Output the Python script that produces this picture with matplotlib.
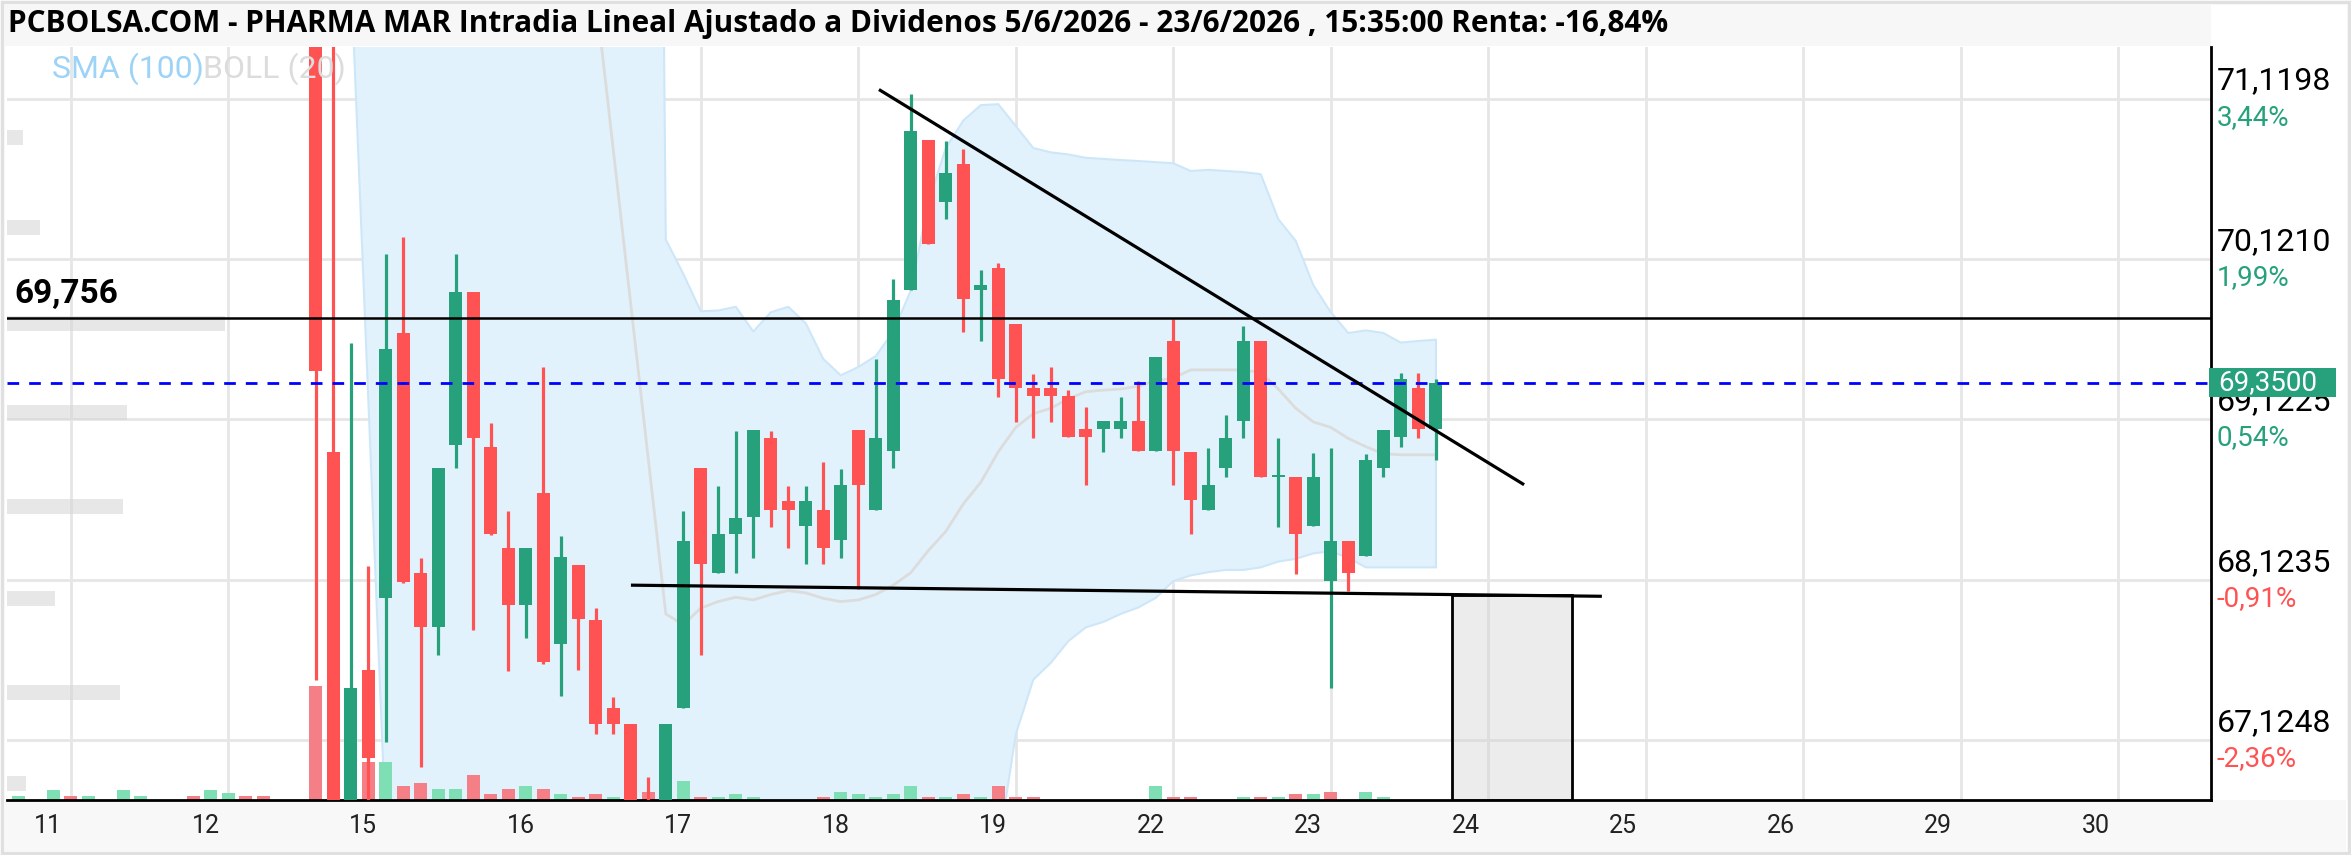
import numpy as np
import matplotlib.pyplot as plt
from matplotlib.patches import Rectangle
from matplotlib.transforms import blended_transform_factory

plt.rcParams['font.family'] = ['Roboto', 'DejaVu Sans']

W, H, DPI = 2351, 855, 100

# sessions on the x axis, 9 hourly bars per session (slot 0 = 11/6 9:00)
days = ['11', '12', '15', '16', '17', '18', '19', '22', '23', '24', '25', '26', '29', '30']
BARS_PER_DAY = 9

# hourly candles, first one is 12/6 14:00 (slot 14)
first_candle = 14
open_ = [73.60, 68.92, 66.50, 67.56, 68.01, 69.66, 68.165, 67.826, 68.962, 69.918,
         68.952, 68.32, 67.963, 68.663, 67.724, 68.212, 67.87, 67.321, 67.222, 66.70,
         66.50, 67.321, 68.816, 68.163, 68.407, 68.516, 69.003, 68.611, 68.457, 68.56,
         68.372, 69.055, 68.56, 68.925, 69.925, 70.864, 70.478, 70.71, 69.925, 70.062,
         69.713, 69.318, 69.318, 69.27, 69.062, 69.062, 69.062, 69.113, 68.925, 69.611,
         68.92, 68.56, 68.816, 69.113, 69.608, 68.765, 68.765, 68.457, 68.116, 68.366,
         68.27, 68.816, 69.01, 69.318, 69.062]
high = [74.00, 72.80, 69.60, 68.21, 70.154, 70.256, 68.26, 68.816, 70.154, 69.918,
        69.10, 68.55, 68.32, 69.448, 68.396, 68.212, 67.945, 67.393, 67.222, 66.894,
        67.222, 68.55, 68.816, 68.707, 69.048, 69.058, 69.048, 68.707, 68.707, 68.857,
        68.81, 69.055, 69.498, 69.993, 71.147, 70.864, 70.853, 70.806, 70.052, 70.096,
        69.713, 69.406, 69.448, 69.305, 69.20, 69.113, 69.259, 69.362, 69.509, 69.748,
        68.92, 68.942, 69.15, 69.704, 69.608, 69.003, 68.765, 68.912, 68.942, 68.366,
        68.908, 69.055, 69.413, 69.413, 69.372]
low = [67.50, 66.40, 66.40, 66.70, 67.11, 68.10, 66.957, 67.655, 68.816, 67.81,
       68.40, 67.555, 67.757, 67.60, 67.40, 67.563, 67.161, 67.16, 66.40, 66.30,
       66.40, 67.321, 67.655, 68.163, 68.163, 68.26, 68.45, 68.32, 68.218, 68.218,
       68.26, 68.065, 68.56, 68.816, 69.925, 70.215, 70.369, 69.669, 69.61, 69.259,
       69.106, 69.003, 69.106, 69.01, 68.713, 68.92, 69.003, 68.925, 68.925, 68.713,
       68.407, 68.56, 68.765, 69.003, 68.765, 68.45, 68.157, 68.457, 67.45, 68.055,
       68.27, 68.765, 68.952, 69.003, 68.867]
close = [69.42, 66.50, 67.45, 67.01, 69.56, 68.11, 67.826, 68.816, 69.918, 69.003,
         68.407, 67.963, 68.32, 67.61, 68.263, 67.877, 67.222, 67.222, 66.50, 66.45,
         67.222, 68.366, 68.218, 68.407, 68.509, 69.058, 68.56, 68.56, 68.611, 68.32,
         68.713, 68.713, 69.003, 69.863, 70.915, 70.215, 70.655, 69.874, 69.96, 69.372,
         69.318, 69.27, 69.27, 69.01, 69.01, 69.113, 69.113, 68.925, 69.509, 68.925,
         68.618, 68.713, 69.003, 69.608, 68.765, 68.77, 68.407, 68.765, 68.366, 68.167,
         68.867, 69.055, 69.372, 69.062, 69.35]

# Bollinger (20) bands, same slots as the candles (nan = not drawn)
nan = np.nan
bb_up = [nan, nan, 86.0, 85.8, 85.6, 85.5, 85.3, 85.1, 84.9, 84.7,
         84.5, 84.3, 84.1, 83.9, 83.7, 83.5, 83.2, 82.9, 82.6, 82.35,
         70.242, 70.028, 69.795, 69.80, 69.823, 69.669, 69.789, 69.823, 69.72, 69.498,
         69.396, 69.448, 69.516, 69.669, 69.925, 70.471, 70.812, 70.983, 71.079, 71.085,
         70.949, 70.812, 70.785, 70.772, 70.751, 70.744, 70.737, 70.731, 70.724, 70.717,
         70.669, 70.676, 70.669, 70.662, 70.649, 70.369, 70.233, 69.959, 69.789, 69.66,
         69.676, 69.66, 69.60, 69.61, 69.618]
bb_mid = [nan, nan, nan, nan, nan, nan, nan, nan, nan, nan,
          nan, nan, nan, nan, nan, nan, 71.76, 70.80, 69.837, 68.875,
          67.91, 67.843, 67.946, 67.987, 68.014, 67.997, 68.031, 68.055, 68.041, 68.007,
          67.987, 67.997, 68.031, 68.089, 68.167, 68.304, 68.424, 68.595, 68.73, 68.92,
          69.072, 69.157, 69.191, 69.25, 69.294, 69.304, 69.311, 69.328, 69.362, 69.379,
          69.43, 69.43, 69.43, 69.43, 69.413, 69.311, 69.191, 69.106, 69.072, 69.003,
          68.952, 68.908, 68.901, 68.901, 68.901]
bb_low = [nan, nan, 71.92, 69.245, 66.57, 65.9, 65.5, 65.2, 65.0, 64.8,
          64.7, 64.6, 64.6, 64.7, 64.8, 64.9, 65.0, 65.2, 65.4, 65.5,
          65.58, 65.66, 66.10, 66.17, 66.205, 66.325, 66.273, 66.287, 66.362, 66.516,
          66.578, 66.546, 66.546, 66.509, 66.409, 66.137, 66.036, 66.207, 66.381, 66.45,
          67.16, 67.50, 67.605, 67.74, 67.826, 67.86, 67.91, 67.95, 68.01, 68.115,
          68.15, 68.17, 68.184, 68.184, 68.20, 68.236, 68.253, 68.287, 68.30, 68.26,
          68.20, 68.20, 68.20, 68.20, 68.20]

# volume bars start at 10/6 15:00 (slot -3)
first_vol = -3
volume = [3.8, 0, 9.6, 3.8, 3.8, 0, 9.6, 3.8, 0, 0, 3.8, 9.6, 6.7, 3.8, 3.8, 0, 0,
          114, 90, 60, 38, 38, 14, 16.7, 11.3, 11.3, 25, 5.7, 11.3, 14, 11.3, 5.7,
          3.3, 5.7, 3.3, 20, 8.3, 20, 19.3, 3.3, 3.3, 5.7, 3.3, 0, 0, 0, 3.3, 8.3,
          5.7, 3.3, 5.7, 14, 3.3, 3.3, 5.7, 3.3, 14, 3.3, 3.3, 0, 0, 0, 0, 0, 0,
          14, 3.3, 3.3, 0, 0, 3.3, 3.3, 3.3, 5.7, 5.7, 8.3, 0, 8.3, 3.3, 0, 0, 0]
vol_up_before = [1, 0, 1, 0, 1, 0, 1, 1, 0, 0, 0, 1, 1, 0, 0, 0, 0, 0]  # slots -3..14
VOL_TOP = 753

# volume-at-price profile on the left
profile_price = [70.880, 70.314, 69.716, 69.162, 68.576, 68.006, 67.418, 66.853]
profile_vol = [16, 33, 218, 120, 116, 48, 113, 19]
PROFILE_TOP = 2204

# right scale
y_ticks = [71.1198, 70.1210, 69.1225, 68.1235, 67.1248]
y_labels = ['71,1198', '70,1210', '69,1225', '68,1235', '67,1248']
pct_labels = ['3,44%', '1,99%', '0,54%', '-0,91%', '-2,36%']

last_price = 69.35
level = 69.756
trend_down_x, trend_down_y = [46.26, 82.97], [71.171, 68.72]
trend_low_x, trend_low_y = [32.1, 87.4], [68.089, 68.02]
box_x, box_top = [78.9, 85.8], 68.03

title = ('PCBOLSA.COM - PHARMA MAR Intradia Lineal Ajustado a Dividenos 5/6/2026 - '
         '23/6/2026 , 15:35:00 Renta: -16,84%')

GREEN, RED = '#26a17b', '#ff5353'
VGREEN, VRED = '#7ddfb3', '#f47f86'

fig = plt.figure(figsize=(W / DPI, H / DPI), dpi=DPI)
fig.patch.set_facecolor('white')
left, right, top, bottom = 7, 2211, 46.7, 800
ax = fig.add_axes([left / W, 1 - bottom / H, (right - left) / W, (bottom - top) / H])
ax.set_xlim(-3.646, 122.3)
ax.set_ylim(66.751, 71.443)

# grid
ax.set_yticks(y_ticks)
ax.set_xticks([i * BARS_PER_DAY for i in range(len(days))])
ax.set_xticks([i * BARS_PER_DAY - 1.3 for i in range(len(days))], labels=days, minor=True)
ax.grid(which='major', color='#e6e6e6', lw=2)
ax.set_axisbelow(True)
ax.tick_params(which='both', length=0, labelleft=False)
ax.tick_params(which='major', labelbottom=False)
ax.tick_params(which='minor', labelsize=18, pad=10, labelcolor='#222222')
for s in ['top', 'left']:
    ax.spines[s].set_visible(False)
ax.spines['right'].set_linewidth(2)
ax.spines['bottom'].set_linewidth(2)

xc = np.arange(len(close)) + first_candle
xv = np.arange(len(volume)) + first_vol
o, h, l, c = map(np.array, (open_, high, low, close))

# bollinger
ax.fill_between(xc, bb_low, bb_up, color='#e1f2fc', lw=0, zorder=1)
ax.plot(xc, bb_up, color='#cde7f9', lw=1.5, zorder=1.1)
ax.plot(xc, bb_low, color='#cde7f9', lw=1.5, zorder=1.1)
ax.plot([xc[-1], xc[-1]], [bb_low[-1], bb_up[-1]], color='#cde7f9', lw=1.5, zorder=1.1)
ax.plot(xc, bb_mid, color='#dcdcdc', lw=2, zorder=1.2)

# volume profile
tp = blended_transform_factory(ax.transAxes, ax.transData)
ax.barh(profile_price, np.array(profile_vol) / PROFILE_TOP, height=0.0934, left=0,
        transform=tp, color='#d4d4d4', alpha=0.55, lw=0, zorder=1.3)

# volume
vol_up = vol_up_before + [int(c[i] >= c[i - 1]) for i in range(1, len(c))]
tv = blended_transform_factory(ax.transData, ax.transAxes)
ax.bar(xv, np.array(volume) / VOL_TOP, width=0.76, bottom=0, transform=tv,
       color=[VGREEN if u else VRED for u in vol_up], lw=0, zorder=2)

# candles
up = c >= o
col = np.where(up, GREEN, RED)
ax.vlines(xc, l, h, colors=col, lw=2.3, zorder=3)
body = np.maximum(np.abs(c - o), 0.012)
ax.bar(xc, body, bottom=np.minimum(o, c), width=0.76, color=col, lw=0, zorder=3.5)

# drawings
ax.axhline(level, color='black', lw=1.8, zorder=5)
ax.annotate('69,756', xy=(0, level), xycoords=tp, xytext=(5.5, 5.5),
            textcoords='offset points', fontsize=24, fontweight='bold', va='bottom')
ax.axhline(last_price, color='#0000ff', lw=2, ls=(0, (4.2, 3.6)), zorder=5)
ax.plot(trend_down_x, trend_down_y, color='black', lw=2.3, zorder=6)
ax.plot(trend_low_x, trend_low_y, color='black', lw=2.3, zorder=6)
y0 = ax.get_ylim()[0]
ax.add_patch(Rectangle((box_x[0], y0), box_x[1] - box_x[0], box_top - y0,
                       facecolor=(0.82, 0.82, 0.82, 0.4), edgecolor='black', lw=2, zorder=5))

# right scale labels
for t, lab, pct in zip(y_ticks, y_labels, pct_labels):
    ax.annotate(lab, xy=(1, t), xycoords=tp, xytext=(4.3, 12.6), textcoords='offset points',
                fontsize=23, va='center', ha='left', color='black', annotation_clip=False)
    ax.annotate(pct, xy=(1, t), xycoords=tp, xytext=(4.3, -13.5), textcoords='offset points',
                fontsize=20, va='center', ha='left', annotation_clip=False,
                color=RED if pct.startswith('-') else GREEN)

tag_h = 29 / 160.55
ax.add_patch(Rectangle((1 - 2 / 2204, last_price - tag_h / 2), 127 / 2204, tag_h,
                       transform=tp, facecolor=GREEN, lw=0, clip_on=False, zorder=8))
ax.annotate('69,3500', xy=(1, last_price), xycoords=tp, xytext=(5, 0), textcoords='offset points',
            fontsize=20, va='center', ha='left', color='white', zorder=9, annotation_clip=False)

# frame, title bar, legend
fig.add_artist(Rectangle((5 / W, 1 - 46 / H), 2206 / W, 41 / H, transform=fig.transFigure,
                         facecolor='#f7f7f7', lw=0, zorder=-1))
fig.add_artist(Rectangle((5 / W, 4 / H), 2341 / W, 51 / H, transform=fig.transFigure,
                         facecolor='#f8f8f8', lw=0, zorder=-1))
fig.add_artist(Rectangle((2 / W, 2 / H), (W - 4) / W, (H - 4) / H, transform=fig.transFigure,
                         fill=False, edgecolor='#e0e0e0', lw=2.5, zorder=10))
fig.text(8 / W, 1 - 24 / H, title, fontsize=21.4, fontweight='bold', va='center',
         family=['Open Sans', 'DejaVu Sans'])
fig.text(52 / W, 1 - 69 / H, 'SMA (100)', fontsize=23, color='#9dd3f7', va='center')
fig.text(203 / W, 1 - 69 / H, 'BOLL (20)', fontsize=23, color='#dcdcdc', va='center')

fig.savefig('out.png', dpi=DPI)
